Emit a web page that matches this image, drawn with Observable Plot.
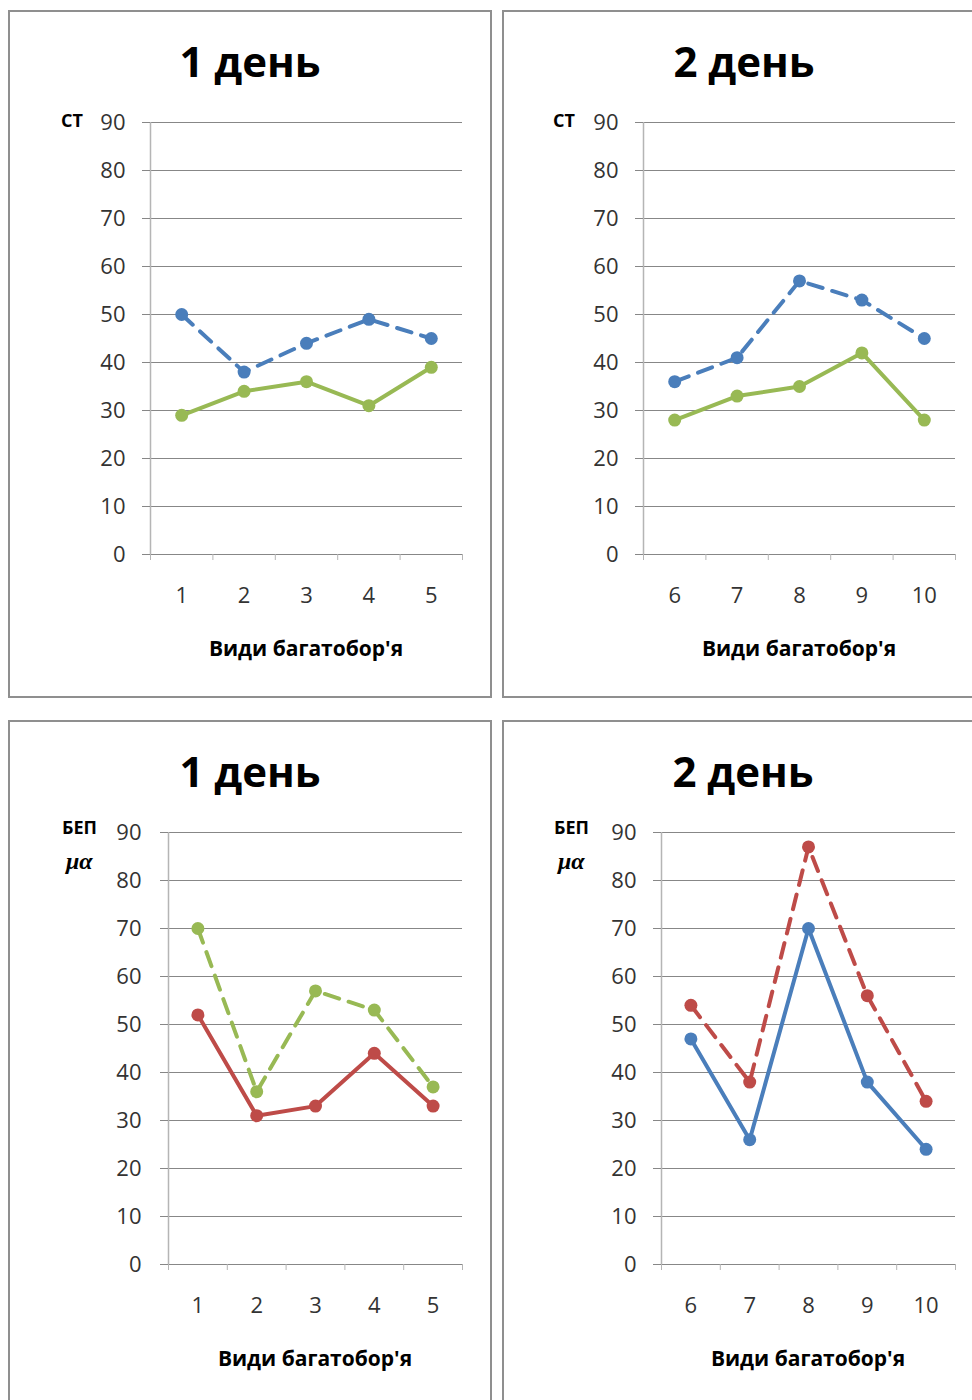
<!DOCTYPE html>
<html>
<head>
<meta charset="utf-8">
<script src="https://cdn.jsdelivr.net/npm/d3@7"></script>
<script src="https://cdn.jsdelivr.net/npm/@observablehq/plot@0.6"></script>
<style>
  html, body { margin: 0; padding: 0; background: #fff; }
  body { width: 972px; height: 1400px; position: relative; overflow: hidden; font-family: "Open Sans", sans-serif; }
  .panel { position: absolute; box-sizing: border-box; border: 2px solid #8f8f8f; background: #fff; }
  .txt { position: absolute; white-space: nowrap; line-height: 1; color: #000; }
  .chart { position: absolute; }
  .chart svg { display: block; overflow: visible; }
</style>
</head>
<body>
<script>
// ---------- data ----------
const day1Events = [1, 2, 3, 4, 5];
const day2Events = [6, 7, 8, 9, 10];
const yTicks = [0, 10, 20, 30, 40, 50, 60, 70, 80, 90];

// СТ
const stDay1Dashed = [50, 38, 44, 49, 45];
const stDay1Solid  = [29, 34, 36, 31, 39];
const stDay2Dashed = [36, 41, 57, 53, 45];
const stDay2Solid  = [28, 33, 35, 42, 28];

// БЕП μα
const bepDay1Dashed = [70, 36, 57, 53, 37];
const bepDay1Solid  = [52, 31, 33, 44, 33];
const bepDay2Dashed = [54, 38, 87, 56, 34];
const bepDay2Solid  = [47, 26, 70, 38, 24];

const titles = ["1 день", "2 день"];
const xTitle = "Види багатобор'я";

const BLUE = "#4a7ebb", GREEN = "#98b954", RED = "#be4b48";

// ---------- helpers ----------
function addText(txt, o) {
  const d = document.createElement("div");
  d.className = "txt";
  d.textContent = txt;
  const serif = !!o.serif;
  const asc = serif ? 0.8375 : 0.888;
  d.style.fontFamily = serif ? '"Liberation Serif", serif' : '"Open Sans", sans-serif';
  d.style.fontSize = o.size + "px";
  d.style.fontWeight = o.weight || 400;
  d.style.fontStyle = o.italic ? "italic" : "normal";
  d.style.top = (o.baseline - asc * o.size) + "px";
  d.style.left = o.x + "px";
  if (o.color) d.style.color = o.color;
  if (o.anchor === "middle") d.style.transform = "translateX(-50%)";
  document.body.appendChild(d);
}

function addPanel(l, t, w, h) {
  const d = document.createElement("div");
  d.className = "panel";
  d.style.left = l + "px"; d.style.top = t + "px";
  d.style.width = w + "px"; d.style.height = h + "px";
  document.body.appendChild(d);
}

function drawChart(cfg) {
  const mL = 120, mR = 20, mT = 30, mB = 130;
  const W = mL + (cfg.x1 - cfg.x0) + mR;
  const H = mT + (cfg.yBot - cfg.yTop) + mB;
  const n = cfg.cats.length;
  const pos = cfg.cats.map((c, i) => i + 1);
  const bounds = d3.range(n + 1).map(i => i + 0.5);
  const dashed = pos.map((p, i) => ({pos: p, v: cfg.dashed[i]}));
  const solid = pos.map((p, i) => ({pos: p, v: cfg.solid[i]}));

  const marks = [
    Plot.ruleY(yTicks, {stroke: "#878787", strokeWidth: 1}),
    Plot.ruleX([0.5], {stroke: "#b5b5b5", strokeWidth: 1.5}),
    Plot.axisY(yTicks, {anchor: "left", tickSize: 8, tickPadding: cfg.yPad, stroke: "#878787",
      fill: "#333", fontSize: 22, label: null}),
    Plot.axisX(bounds, {anchor: "bottom", tickSize: 6, tickFormat: () => "", stroke: "#b5b5b5", label: null}),
    Plot.axisX(pos, {anchor: "bottom", tickSize: 0, tickPadding: 33,
      tickFormat: d => String(cfg.cats[d - 1]), fill: "#333", fontSize: 22, label: null}),
    Plot.line(solid, {x: "pos", y: "v", stroke: cfg.solidColor, strokeWidth: 4}),
    Plot.dot(solid, {x: "pos", y: "v", r: 6.5, fill: cfg.solidColor}),
    Plot.line(dashed, {x: "pos", y: "v", stroke: cfg.dashedColor, strokeWidth: 4, strokeDasharray: "15,10"}),
    Plot.dot(dashed, {x: "pos", y: "v", r: 6.5, fill: cfg.dashedColor})
  ];

  const svg = Plot.plot({
    width: W, height: H,
    marginLeft: mL, marginRight: mR, marginTop: mT, marginBottom: mB,
    style: {fontFamily: '"Open Sans", sans-serif', fontSize: "22px", background: "transparent", overflow: "visible"},
    x: {type: "linear", domain: [0.5, n + 0.5]},
    y: {type: "linear", domain: [0, 90]},
    marks
  });
  const wrap = document.createElement("div");
  wrap.className = "chart";
  wrap.style.left = (cfg.x0 - mL) + "px";
  wrap.style.top = (cfg.yTop - mT) + "px";
  wrap.style.width = W + "px";
  wrap.appendChild(svg);
  document.body.appendChild(wrap);

  // titles and labels
  addText(cfg.title, {x: cfg.titleX, baseline: cfg.titleBase, size: 42, weight: 700, anchor: "middle"});
  addText(xTitle, {x: (cfg.x0 + cfg.x1) / 2, baseline: cfg.xTitleBase, size: 21, weight: 700, anchor: "middle"});
  cfg.yLabel.forEach(l => addText(l.text, l));
}

// ---------- panels ----------
addPanel(8, 10, 484, 688);
addPanel(502, 10, 480, 688);
addPanel(8, 720, 484, 700);
addPanel(502, 720, 480, 700);

drawChart({
  x0: 150, x1: 462, yTop: 122, yBot: 554, yPad: 17,
  cats: day1Events, dashed: stDay1Dashed, solid: stDay1Solid,
  dashedColor: BLUE, solidColor: GREEN,
  title: titles[0], titleX: 250, titleBase: 77, xTitleBase: 657,
  yLabel: [{text: "СТ", x: 61, baseline: 127, size: 18, weight: 700}]
});
drawChart({
  x0: 643, x1: 955, yTop: 122, yBot: 554, yPad: 17,
  cats: day2Events, dashed: stDay2Dashed, solid: stDay2Solid,
  dashedColor: BLUE, solidColor: GREEN,
  title: titles[1], titleX: 744, titleBase: 77, xTitleBase: 657,
  yLabel: [{text: "СТ", x: 553, baseline: 127, size: 18, weight: 700}]
});
drawChart({
  x0: 168, x1: 462, yTop: 832, yBot: 1264, yPad: 19,
  cats: day1Events, dashed: bepDay1Dashed, solid: bepDay1Solid,
  dashedColor: GREEN, solidColor: RED,
  title: titles[0], titleX: 250, titleBase: 787, xTitleBase: 1367,
  yLabel: [{text: "БЕП", x: 62, baseline: 834, size: 18, weight: 700},
           {text: "μα", x: 66, baseline: 869, size: 24, italic: true, serif: true, weight: 700}]
});
drawChart({
  x0: 661, x1: 955, yTop: 832, yBot: 1264, yPad: 17,
  cats: day2Events, dashed: bepDay2Dashed, solid: bepDay2Solid,
  dashedColor: RED, solidColor: BLUE,
  title: titles[1], titleX: 743, titleBase: 787, xTitleBase: 1367,
  yLabel: [{text: "БЕП", x: 554, baseline: 834, size: 18, weight: 700},
           {text: "μα", x: 558, baseline: 869, size: 24, italic: true, serif: true, weight: 700}]
});
</script>
</body>
</html>
